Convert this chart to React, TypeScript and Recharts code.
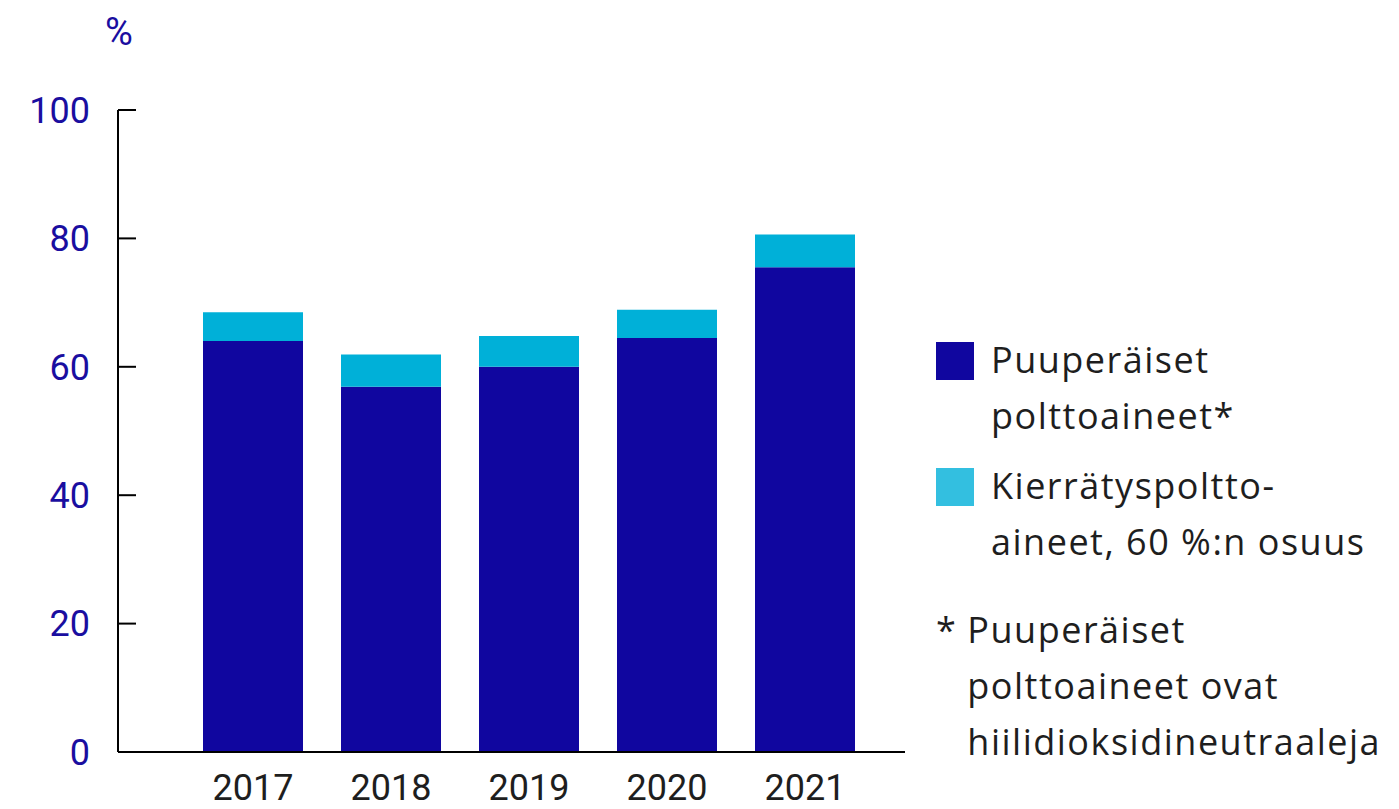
import { BarChart, Bar, XAxis, YAxis, Legend } from 'recharts'

const years = ['2017', '2018', '2019', '2020', '2021']
const woodBased = [64.0, 56.9, 60.0, 64.5, 75.5]
const recycled = [4.5, 5.0, 4.8, 4.4, 5.1]
const yTicks = [0, 20, 40, 60, 80, 100]

const DARK = '#10069f'
const CYAN = '#00b0d8'
const FONT = 'Roboto, "DejaVu Sans", sans-serif'
const TEXT_FONT = '"Open Sans", Roboto, sans-serif'

const chartData = years.map((year, i) => ({
  year,
  wood: woodBased[i],
  recycled: recycled[i],
}))

function LegendBox() {
  const text = {
    fontSize: 36,
    color: '#1e1e1e',
    lineHeight: '56px',
    fontFamily: TEXT_FONT,
    letterSpacing: 1.5,
    whiteSpace: 'nowrap' as const,
  }
  const swatch = (color: string) => (
    <div style={{ width: 38, height: 38, background: color, flex: 'none', marginTop: 10 }} />
  )
  return (
    <div style={{ width: 460, textAlign: 'left' }}>
      <div style={{ display: 'flex', gap: 17 }}>
        {swatch(DARK)}
        <div style={text}>
          Puuperäiset
          <br />
          polttoaineet*
        </div>
      </div>
      <div style={{ display: 'flex', gap: 17, marginTop: 14 }}>
        {swatch('#33bfe0')}
        <div style={text}>
          Kierrätyspoltto-
          <br />
          aineet, 60 %:n osuus
        </div>
      </div>
      <div style={{ display: 'flex', gap: 10, marginTop: 32, ...text }}>
        <div style={{ flex: 'none' }}>*</div>
        <div>
          Puuperäiset
          <br />
          polttoaineet ovat
          <br />
          hiilidioksidineutraaleja
        </div>
      </div>
    </div>
  )
}

export default function App() {
  return (
    <div style={{ position: 'absolute', left: 0, top: 0, width: 1399, height: 809, background: '#fff' }}>
      <div
        style={{
          position: 'absolute',
          left: 105,
          top: 10,
          fontSize: 38,
          color: '#1a0ea0',
          fontFamily: FONT,
        }}
      >
        %
      </div>
      <BarChart
        width={1399}
        height={809}
        data={chartData}
        margin={{ top: 110, right: 494, bottom: 0, left: 0 }}
        barCategoryGap={0}
      >
        <XAxis
          dataKey="year"
          height={57}
          padding={{ left: 66, right: 31 }}
          axisLine={{ stroke: '#000', strokeWidth: 2 }}
          tickLine={false}
          tickSize={0}
          tickMargin={22}
          interval={0}
          tick={{ fill: '#1e1e1e', fontSize: 36, fontFamily: FONT }}
        />
        <YAxis
          width={118}
          domain={[0, 100]}
          ticks={yTicks}
          interval={0}
          axisLine={{ stroke: '#000', strokeWidth: 2 }}
          tickLine={{ stroke: '#000', strokeWidth: 2 }}
          tickSize={-18}
          tickMargin={46}
          tick={{ fill: '#1a0ea0', fontSize: 36, fontFamily: FONT }}
        />
        <Legend
          layout="horizontal"
          align="center"
          verticalAlign="middle"
          wrapperStyle={{ left: 936, top: 332, width: 460 }}
          content={() => <LegendBox />}
        />
        <Bar dataKey="wood" stackId="a" fill={DARK} barSize={100} isAnimationActive={false} />
        <Bar dataKey="recycled" stackId="a" fill={CYAN} barSize={100} isAnimationActive={false} />
      </BarChart>
    </div>
  )
}
